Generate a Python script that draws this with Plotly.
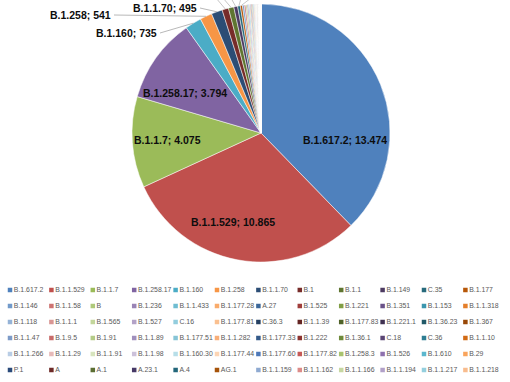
import math
import plotly.graph_objects as go

# ---------------- data ----------------
lineages = [
    "B.1.617.2", "B.1.1.529", "B.1.1.7", "B.1.258.17", "B.1.160", "B.1.258", "B.1.1.70", "B.1", "B.1.1", "B.1.149", "C.35", "B.1.177",
    "B.1.146", "B.1.1.58", "B", "B.1.236", "B.1.1.433", "B.1.177.28", "A.27", "B.1.525", "B.1.221", "B.1.351", "B.1.153", "B.1.1.318",
    "B.1.118", "B.1.1.1", "B.1.565", "B.1.527", "C.16", "B.1.177.81", "C.36.3", "B.1.1.39", "B.1.177.83", "B.1.221.1", "B.1.36.23", "B.1.367",
    "B.1.1.47", "B.1.9.5", "B.1.91", "B.1.1.89", "B.1.177.51", "B.1.1.282", "B.1.177.33", "B.1.222", "B.1.36.1", "C.18", "C.36", "B.1.1.10",
    "B.1.1.266", "B.1.1.29", "B.1.1.91", "B.1.1.98", "B.1.160.30", "B.1.177.44", "B.1.177.60", "B.1.177.82", "B.1.258.3", "B.1.526", "B.1.610", "B.29",
    "P.1", "A", "A.1", "A.23.1", "A.4", "AG.1", "B.1.1.159", "B.1.1.162", "B.1.1.166", "B.1.1.194", "B.1.1.217", "B.1.1.218",
]
counts = [
    13474, 10865, 4075, 3794, 735, 541, 495, 290, 240, 170, 120, 95,
    80, 70, 60, 55, 48, 42, 38, 35, 32, 29, 26, 24,
    22, 20, 18, 16, 15, 14, 13, 12, 11, 10, 9, 9,
    8, 8, 7, 7, 6, 6, 5, 5, 5, 4, 4, 4,
    3, 3, 3, 3, 3, 3, 2, 2, 2, 2, 2, 2,
    2, 2, 2, 2, 1, 1, 1, 1, 1, 1, 1, 1,
]
inside_labelled = ["B.1.617.2", "B.1.1.529", "B.1.1.7", "B.1.258.17"]
outside_labelled = ["B.1.160", "B.1.258", "B.1.1.70"]
offscreen_labelled = ["B.1", "B.1.1", "B.1.149", "C.35", "B.1.177"]

# ---------------- styles ----------------
colors = [
    "#4F81BD", "#C0504D", "#9BBB59", "#8064A2", "#4BACC6", "#F79646",
    "#2C4D75", "#772C2A", "#5F7530", "#4D3B62", "#276A7C", "#B65708",
    "#729ACA", "#CD7371", "#AFC97A", "#9983B5", "#6FBDD1", "#F9AB6B",
    "#3C6798", "#A03E3B", "#819E45", "#6A5289", "#3A96AE", "#E47E2A",
    "#95B3D7", "#D99694", "#C3D69B", "#B3A2C7", "#93CDDD", "#FAC090",
    "#254061", "#632523", "#4F6228", "#3F3151", "#215968", "#984807",
    "#7D9BC8", "#C86B69", "#B4CB87", "#A08FBD", "#86C4D6", "#F8AE78",
    "#345A8A", "#8B3330", "#6E8A3A", "#5A4574", "#2E7D92", "#D16A14",
    "#B9CDE5", "#E6B9B8", "#D7E4BD", "#CCC1DA", "#B7DEE8", "#FCD5B5",
    "#4F79B8", "#C55A57", "#A8C36E", "#8E71AE", "#5BB7CE", "#F9A45C",
    "#2A4A7A", "#6D2A28", "#5B6E33", "#463866", "#23667A", "#A6530A",
    "#8FAAD1", "#DC8B89", "#C6D7A1", "#B1A0C8", "#94CFDE", "#F8BC8E",
]

W, H = 510, 382
cx_px, cy_px, r_px = 261, 133, 129
dom_x = [(cx_px - r_px) / W, (cx_px + r_px) / W]
dom_y = [1 - (cy_px + r_px) / H, 1 - (cy_px - r_px) / H]

label_font = dict(family="Liberation Sans", size=10.5, color="#0d0d0d")


def fmt(v):
    return f"{v:,}".replace(",", ".")


fig = go.Figure()
fig.add_trace(go.Pie(
    labels=lineages,
    values=counts,
    sort=False,
    direction="clockwise",
    rotation=0,
    marker=dict(colors=colors, line=dict(color="white", width=0.5)),
    textinfo="none",
    domain=dict(x=dom_x, y=dom_y),
    showlegend=False,
    hoverinfo="label+value+percent",
))

# label placement (pixels): inside labels by centre, outside labels by their
# right edge (where the leader line starts)
inside_pos_px = {"B.1.617.2": (345, 140), "B.1.1.529": (233, 222),
                 "B.1.1.7": (167, 140), "B.1.258.17": (185, 93)}
outside_end_px = {"B.1.160": (158, 33), "B.1.258": (112, 15), "B.1.1.70": (198, 8)}
offscreen_x_px = {"B.1": 216, "B.1.1": 223, "B.1.149": 231, "C.35": 241, "B.1.177": 251}

total = sum(counts)
cum = 0
for lab, val in zip(lineages, counts):
    mid = (cum + val / 2) / total * 2 * math.pi
    cum += val
    hx = cx_px + r_px * math.sin(mid)
    hy = cy_px - r_px * math.cos(mid)
    txt = f"<b>{lab}; {fmt(val)}</b>"
    if lab in inside_labelled:
        px, py = inside_pos_px[lab]
        fig.add_annotation(x=px / W, y=1 - py / H, xref="paper", yref="paper",
                           xanchor="center", yanchor="middle",
                           text=txt, showarrow=False, font=label_font)
    elif lab in outside_labelled:
        ex, ey = outside_end_px[lab]
        fig.add_shape(type="line", xref="paper", yref="paper",
                      x0=(ex + 2) / W, y0=1 - ey / H, x1=hx / W, y1=1 - hy / H,
                      line=dict(color="#a6a6a6", width=0.8))
        fig.add_annotation(x=ex / W, y=1 - ey / H, xref="paper", yref="paper",
                           xanchor="right", yanchor="middle",
                           text=txt, showarrow=False, font=label_font,
                           borderpad=0)
    elif lab in offscreen_labelled:
        # these labels lie above the visible area; only their leader lines show
        fig.add_shape(type="line", xref="paper", yref="paper",
                      x0=hx / W, y0=1 - hy / H,
                      x1=offscreen_x_px[lab] / W, y1=1 + 2 / H,
                      line=dict(color="#b8b8b8", width=0.8))

# ---------------- legend grid (from categories) ----------------
ncol = 12
col_step = 41.4
row_step = 16
first_col_px = 10
first_row_px = 290
leg_x = [i % ncol for i in range(len(lineages))]
leg_y = [i // ncol for i in range(len(lineages))]
fig.add_trace(go.Scatter(
    x=leg_x, y=leg_y, mode="markers+text",
    text=lineages, textposition="middle right",
    textfont=dict(family="Liberation Sans", size=6.9, color="#595959"),
    marker=dict(symbol="square", size=4.5, color=colors, line=dict(width=0)),
    hoverinfo="skip", showlegend=False, cliponaxis=False,
))
xa0 = -first_col_px / col_step
ya0 = -first_row_px / row_step
fig.update_xaxes(range=[xa0, xa0 + W / col_step], visible=False, fixedrange=True)
fig.update_yaxes(range=[ya0 + H / row_step, ya0], visible=False, fixedrange=True)

fig.update_layout(
    width=W, height=H,
    margin=dict(l=0, r=0, t=0, b=0, autoexpand=False),
    paper_bgcolor="white", plot_bgcolor="rgba(0,0,0,0)",
    separators=",.",
    showlegend=False,
)
fig.write_html("out.html", config={"displayModeBar": False},
               post_script="document.body.style.margin='0px';")
